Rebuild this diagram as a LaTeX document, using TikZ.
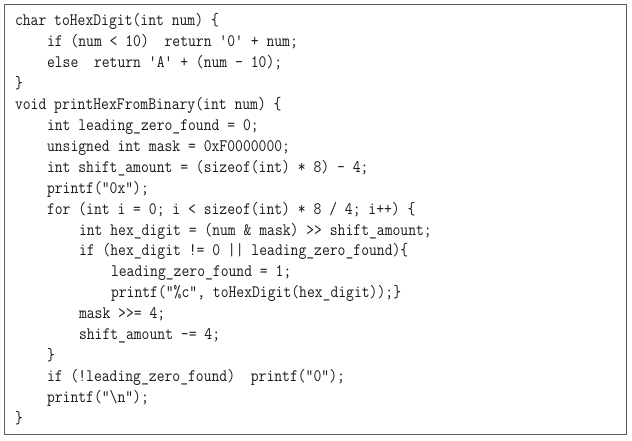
\documentclass[tikz,border=0pt]{standalone}
\usepackage{fontspec}
\newfontfamily\codefont{Latin Modern Mono}[FakeStretch=0.87]
\definecolor{boxgray}{RGB}{95,95,95}
\definecolor{codeink}{RGB}{25,25,25}
\tikzset{
  codeline/.style={anchor=base west, inner sep=0pt, outer sep=0pt, text=codeink,
    font=\codefont\fontsize{17.5}{20.9}\selectfont},
  framebox/.style={draw=boxgray, line width=1.8pt}
}
\begin{document}
\begin{tikzpicture}[x=1pt,y=1pt]
\useasboundingbox[fill=white] (0,0) rectangle (632,440);
\draw[framebox] (4.5,5.5) rectangle (626.5,435.5);
% indent levels: 15, 47, 79, 111 ; baseline of line k: 440-(26+(k-1)*20.9)
\node[codeline] (l1)  at (15,414.0) {char toHexDigit(int num) \{};
\node[codeline] (l2)  at (47,393.1) {if (num < 10)\ \ return '0' + num;};
\node[codeline] (l3)  at (47,372.2) {else\ \ return 'A' + (num - 10);};
\node[codeline] (l4)  at (15,351.3) {\}};
\node[codeline] (l5)  at (15,330.4) {void printHexFromBinary(int num) \{};
\node[codeline] (l6)  at (47,309.5) {int leading\_zero\_found = 0;};
\node[codeline] (l7)  at (47,288.6) {unsigned int mask = 0xF0000000;};
\node[codeline] (l8)  at (47,267.7) {int shift\_amount = (sizeof(int) * 8) - 4;};
\node[codeline] (l9)  at (47,246.8) {printf("0x");};
\node[codeline] (l10) at (47,225.9) {for (int i = 0; i < sizeof(int) * 8 / 4; i++) \{};
\node[codeline] (l11) at (79,205.0) {int hex\_digit = (num \& mask) >> shift\_amount;};
\node[codeline] (l12) at (79,184.1) {if (hex\_digit != 0 || leading\_zero\_found)\{};
\node[codeline] (l13) at (111,163.2) {leading\_zero\_found = 1;};
\node[codeline] (l14) at (111,142.3) {printf("\%c", toHexDigit(hex\_digit));\}};
\node[codeline] (l15) at (79,121.4) {mask >>= 4;};
\node[codeline] (l16) at (79,100.5) {shift\_amount -= 4;};
\node[codeline] (l17) at (47,79.6) {\}};
\node[codeline] (l18) at (47,58.7) {if (!leading\_zero\_found)\ \ printf("0");};
\node[codeline] (l19) at (47,37.8) {printf("\textbackslash n");};
\node[codeline] (l20) at (15,16.9) {\}};
\end{tikzpicture}
\end{document}
